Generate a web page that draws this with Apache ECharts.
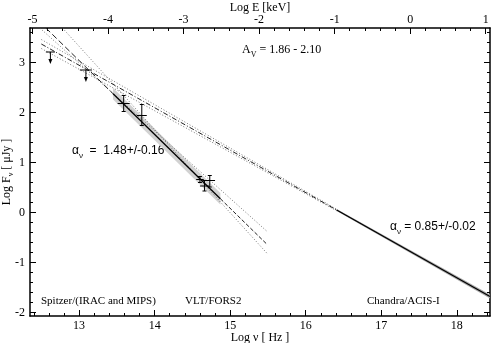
<!DOCTYPE html>
<html>
<head>
<meta charset="utf-8">
<script src="https://cdn.jsdelivr.net/npm/echarts@6/dist/echarts.min.js"></script>
<style>html,body{margin:0;padding:0;background:#fff}#chart{width:491px;height:343px}</style>
</head>
<body>
<div id="chart"></div>
<script>
// axis ranges: log nu [Hz] and log F_nu [uJy]
var X_MIN = 12.35, X_MAX = 18.44, Y_MIN = -2.07, Y_MAX = 3.69;
var KEV = 17.383; // log nu of 1 keV

var xTicks = [13, 14, 15, 16, 17, 18];
var eTicks = [-5, -4, -3, -2, -1, 0, 1];
var yTicks = [-2, -1, 0, 1, 2, 3];

// detections (Spitzer, VLT)
var detNu = [13.59, 13.83, 14.60, 14.73, 14.66];
var detF = [2.18, 1.94, 0.66, 0.64, 0.53];
var detNuErr = [0.08, 0.066, 0.05, 0.07, 0.06];
var detFLow = [2.02, 1.74, 0.60, 0.51, 0.43];
var detFHigh = [2.34, 2.16, 0.72, 0.74, 0.64];

// upper limits
var ulNu = [12.62, 13.09];
var ulF = [3.21, 2.85];
var ulNuErr = [0.06, 0.08];

// IR/optical power law, alpha = 1.48
var irDashA = [[12.56, 3.69], [13.45, 2.375]];
var irSolid = [[13.45, 2.375], [14.87, 0.276]];
var irDashB = [[14.87, 0.276], [15.49, -0.64]];
var irErrA = [[12.48, 3.69], [15.49, -0.38]];
var irErrB = [[12.78, 3.69], [15.49, -0.82]];
var irBandHi = [[13.45, 2.49], [14.87, 0.39]];
var irBandLo = [[13.45, 2.26], [14.87, 0.16]];

// X-ray power law, alpha = 0.85
var xrDash = [[12.5, 3.37], [16.41, 0.05]];
var xrSolid = [[16.41, 0.05], [18.44, -1.68]];
var xrErrA = [[12.5, 3.46], [16.41, 0.065]];
var xrErrB = [[12.5, 3.28], [16.41, 0.035]];
var xrBandHi = [[16.41, 0.07], [18.44, -1.64]];
var xrBandLo = [[16.41, 0.03], [18.44, -1.72]];

var SERIF = '"Liberation Serif", "Times New Roman", serif';
var SANS = '"Liberation Sans", Arial, sans-serif';

function minorTicks(lo, hi) {
	var out = [];
	for (var k = Math.ceil(lo / 0.2); k * 0.2 <= hi; k++) {
		out.push(Math.round(k * 2) / 10);
	}
	return out;
}

function lineSeries(pts, type, width, color) {
	return {
		type: 'line', data: pts, symbol: 'none', silent: true, z: 3,
		lineStyle: { color: color || '#000', width: width, type: type }
	};
}

function bandSeries(hi, lo, color) {
	return {
		type: 'custom', silent: true, z: 1,
		data: [hi[0]],
		renderItem: function (params, api) {
			var pts = hi.concat(lo.slice().reverse()).map(function (p) { return api.coord(p); });
			return { type: 'polygon', shape: { points: pts }, style: { fill: color } };
		}
	};
}

function seg(a, b) {
	return { type: 'line', shape: { x1: a[0], y1: a[1], x2: b[0], y2: b[1] }, style: { stroke: '#000', lineWidth: 1 } };
}

var errData = detNu.map(function (n, i) {
	return [n, detF[i], detNuErr[i], detFLow[i], detFHigh[i]];
});
var ulData = ulNu.map(function (n, i) { return [n, ulF[i], ulNuErr[i]]; });

function xAxisPair(pos, lo, hi, major, name, gap, margin) {
	return [{
		type: 'value', position: pos, min: lo, max: hi,
		name: name, nameLocation: 'middle', nameGap: gap, nameMoveOverlap: false,
		nameTextStyle: { fontFamily: SERIF, fontSize: 12, color: '#000' },
		axisLine: { onZero: false, lineStyle: { color: '#000', width: 1.5 } },
		axisTick: { inside: true, length: 6, customValues: major, lineStyle: { color: '#000' } },
		axisLabel: { customValues: major, margin: margin, fontFamily: SERIF, fontSize: 12, color: '#000' },
		splitLine: { show: false }
	}, {
		type: 'value', position: pos, min: lo, max: hi,
		axisLine: { show: false, onZero: false },
		axisTick: { inside: true, length: 3, customValues: minorTicks(lo, hi), lineStyle: { color: '#000' } },
		axisLabel: { show: false },
		splitLine: { show: false }
	}];
}

function yAxisPair(pos, labels) {
	return [{
		type: 'value', position: pos, min: Y_MIN, max: Y_MAX,
		name: labels ? '{n|Log F}{s|ν}{n| [ μJy ]}' : '', nameLocation: 'middle', nameGap: 15, nameRotate: 90,
		nameMoveOverlap: false,
		nameTextStyle: {
			color: '#000',
			rich: {
				n: { fontFamily: SERIF, fontSize: 12, lineHeight: 16, verticalAlign: 'middle' },
				s: { fontFamily: SERIF, fontSize: 8, lineHeight: 8, verticalAlign: 'bottom' }
			}
		},
		axisLine: { onZero: false, lineStyle: { color: '#000', width: 1.5 } },
		axisTick: { inside: true, length: 6, customValues: yTicks, lineStyle: { color: '#000' } },
		axisLabel: { show: labels, customValues: yTicks, margin: 5, fontFamily: SERIF, fontSize: 12, color: '#000' },
		splitLine: { show: false }
	}, {
		type: 'value', position: pos, min: Y_MIN, max: Y_MAX,
		axisLine: { show: false, onZero: false },
		axisTick: { inside: true, length: 3, customValues: minorTicks(Y_MIN, Y_MAX), lineStyle: { color: '#000' } },
		axisLabel: { show: false },
		splitLine: { show: false }
	}];
}

var subRich = function (font, size) {
	return {
		n: { fontFamily: font, fontSize: size, lineHeight: 18, verticalAlign: 'middle', fill: '#000' },
		s: { fontFamily: font, fontSize: 8, lineHeight: 8, verticalAlign: 'bottom', fill: '#000' }
	};
};

function label(x, y, text, font, size) {
	return {
		type: 'text', x: x, y: y,
		style: { text: text, fontFamily: font, fontSize: size, fill: '#000', verticalAlign: 'middle' }
	};
}

function richLabel(x, y, text, font, size) {
	return {
		type: 'text', x: x, y: y,
		style: { text: text, rich: subRich(font, size), verticalAlign: 'middle' }
	};
}

var chart = echarts.init(document.getElementById('chart'));
chart.setOption({
	animation: false,
	backgroundColor: '#fff',
	grid: { left: 30, right: 1, top: 28, bottom: 27, containLabel: false, outerBoundsMode: 'none' },
	xAxis: xAxisPair('bottom', X_MIN, X_MAX, xTicks, 'Log ν [ Hz ]', 16, 4)
		.concat(xAxisPair('top', X_MIN - KEV, X_MAX - KEV, eTicks, 'Log E [keV]', 14, 2)),
	yAxis: yAxisPair('left', true).concat(yAxisPair('right', false)),
	series: [
		bandSeries(irBandHi, irBandLo, '#d2d2d2'),
		bandSeries(xrBandHi, xrBandLo, '#aaaaaa'),
		lineSeries(irErrA, [1, 2], 0.8, '#555'),
		lineSeries(irErrB, [1, 2], 0.8, '#555'),
		lineSeries(xrErrA, [1, 2], 0.8, '#555'),
		lineSeries(xrErrB, [1, 2], 0.8, '#555'),
		lineSeries(irDashA, [6, 3], 1, '#222'),
		lineSeries(irSolid, 'solid', 1.3),
		lineSeries(irDashB, [4, 2], 1, '#222'),
		lineSeries(xrDash, [5, 2, 1, 2], 1, '#222'),
		lineSeries(xrSolid, 'solid', 1.3),
		{
			type: 'custom', z: 5, silent: true,
			data: errData,
			encode: { x: 0, y: 1 },
			renderItem: function (params, api) {
				var nu = api.value(0), f = api.value(1), dn = api.value(2);
				var l = api.coord([nu - dn, f]), r = api.coord([nu + dn, f]);
				var lo = api.coord([nu, api.value(3)]), hi = api.coord([nu, api.value(4)]);
				return {
					type: 'group', children: [
						seg(l, r), seg(lo, hi),
						seg([hi[0] - 2, hi[1]], [hi[0] + 2, hi[1]]),
						seg([lo[0] - 2, lo[1]], [lo[0] + 2, lo[1]])
					]
				};
			}
		},
		{
			type: 'custom', z: 5, silent: true,
			data: ulData,
			encode: { x: 0, y: 1 },
			renderItem: function (params, api) {
				var nu = api.value(0), f = api.value(1), dn = api.value(2);
				var l = api.coord([nu - dn, f]), r = api.coord([nu + dn, f]);
				var c = api.coord([nu, f]);
				return {
					type: 'group', children: [
						seg(l, r), seg(c, [c[0], c[1] + 9]),
						{ type: 'polygon', shape: { points: [[c[0] - 2, c[1] + 7], [c[0] + 2, c[1] + 7], [c[0], c[1] + 12]] }, style: { fill: '#000' } }
					]
				};
			}
		}
	],
	graphic: [
		richLabel(242, 50, '{n|A}{s|V}{n| = 1.86 - 2.10}', SERIF, 12),
		richLabel(72, 151, '{n|α}{s|ν}{n|  =  1.48+/-0.16}', SANS, 12),
		richLabel(390, 227, '{n|α}{s|ν}{n| = 0.85+/-0.02}', SANS, 12),
		label(41, 301, 'Spitzer/(IRAC and MIPS)', SERIF, 11),
		label(185, 301, 'VLT/FORS2', SERIF, 11),
		label(367, 301, 'Chandra/ACIS-I', SERIF, 11)
	]
});
</script>
</body>
</html>
